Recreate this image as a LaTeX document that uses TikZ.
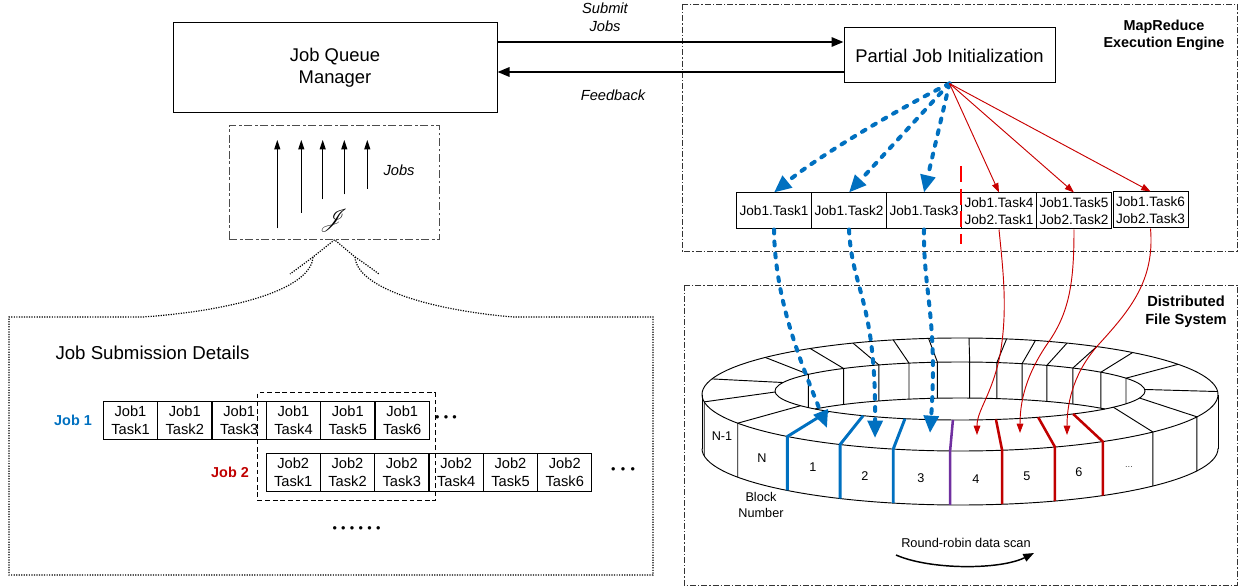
\documentclass[tikz,border=0pt]{standalone}
\usepackage{fontspec}
\setmainfont{Liberation Sans}
\usepackage{mathrsfs}
\usetikzlibrary{arrows.meta,calc}
\definecolor{mblue}{RGB}{0,112,192}
\definecolor{mred}{RGB}{192,0,0}
\definecolor{mpurple}{RGB}{112,48,160}
\definecolor{arrred}{RGB}{200,0,0}
\tikzset{
  lbl/.style={inner sep=0pt, align=center},
  mainbox/.style={draw, inner sep=0pt, align=center, font=\fontsize{13.8}{16.5}\selectfont},
  taskbox/.style={draw, inner sep=0pt, align=center, minimum width=56.25pt, minimum height=27pt, font=\fontsize{10.2}{12.75}\selectfont},
  jtask/.style={draw, inner sep=0pt, align=center, minimum width=40.75pt, minimum height=28.5pt, font=\fontsize{11}{13.3}\selectfont},
  frameDD/.style={draw=black!80, line width=0.6pt, dash pattern=on 4.5pt off 1.5pt on 1pt off 1.5pt},
  dotframe/.style={draw=black, line width=0.9pt, dash pattern=on 0.9pt off 1pt},
  jobsframe/.style={draw=black!70, line width=0.75pt, dash pattern=on 6pt off 2pt on 2pt off 2pt},
  selframe/.style={draw=black, line width=0.75pt, dash pattern=on 3.5pt off 2.2pt},
  bluearr/.style={draw=mblue, line width=3pt, dash pattern=on 3pt off 6pt, line cap=round, -{Triangle[length=13pt,width=11pt,fill=mblue]}},
  redarr/.style={draw=arrred, line width=0.7pt, -{Triangle[length=7pt,width=5pt,fill=arrred]}},
  blkarr/.style={draw=black, line width=1.6pt, -{Triangle[length=9pt,width=7pt]}},
  jarr/.style={draw=black, line width=0.75pt, -{Triangle[length=7pt,width=4.5pt]}},
  ringline/.style={draw=black, line width=0.7pt},
  ringblue/.style={draw=mblue, line width=2.2pt, line join=round},
  ringred/.style={draw=mred, line width=1.9pt, line join=round},
  ringpurple/.style={draw=mpurple, line width=1.9pt, line join=round},
  ringlbl/.style={inner sep=0pt, font=\fontsize{9.5}{11}\selectfont},
  dots/.style={inner sep=0pt, font=\fontsize{9.5}{11}\selectfont}
}
\begin{document}
\begin{tikzpicture}[x=0.75pt,y=-0.75pt,line width=0.75pt]
\useasboundingbox (0,0) rectangle (1239,588);

% ---------------- frames ----------------
\draw[frameDD] (682,4) rectangle (1237,251);
\draw[frameDD] (684,285) rectangle (1237,585);

% ---------------- top: job queue manager and partial job init ----------------
\node[mainbox, minimum width=243pt, minimum height=67.5pt] (JQM) at (335,68) {Job Queue\\Manager};
\node[mainbox, minimum width=158.25pt, minimum height=41.25pt] (PJI) at (949.5,55.5) {Partial Job Initialization};
\coordinate (subY) at (0,42);
\coordinate (fbY) at (0,72);
\draw[blkarr] (JQM.east |- subY) -- (PJI.west |- subY);
\draw[blkarr] (PJI.west |- fbY) -- (JQM.east |- fbY);
\node[lbl, font=\fontsize{11}{13.5}\selectfont\itshape] (submit) at (605,17) {Submit\\Jobs};
\node[lbl, font=\fontsize{11}{13.5}\selectfont\itshape] (feedback) at (613,95) {Feedback};
\node[lbl, font=\fontsize{10.8}{13}\selectfont\bfseries] (mre) at (1164,35) {MapReduce\\Execution Engine};

% ---------------- jobs box ----------------
\node[jobsframe, minimum width=158pt, minimum height=85.2pt, inner sep=0pt] (JB) at (334.6,182.5) {};
\foreach \i/\x/\yb in {1/277.3/228.3, 2/301.3/212.7, 3/322.7/199.3, 4/344.3/194.3, 5/367.3/189}{
  \coordinate (jb\i) at (\x,\yb);
  \coordinate (jt\i) at (\x,140);
  \draw[jarr] (jb\i) -- (jt\i);
}
\node[lbl, font=\fontsize{11}{13}\selectfont\itshape] (jobslbl) at (399,170) {Jobs};
\node[lbl, font=\fontsize{16}{18}\selectfont] (Jsym) at (334,221) {$\mathscr{J}$};

% ---------------- job submission details (callout) ----------------
\coordinate (cl) at (313,257);
\coordinate (cr) at (355,257);
\draw[dotframe] (JB.south) -- (cl) .. controls (311,288) and (240,310) .. (143,317)
   -- (9,317) -- (9,575) -- (653,575) -- (653,317) -- (513,317)
   .. controls (430,310) and (357,288) .. (cr) -- (JB.south);
\coordinate (cle) at (290,274);
\coordinate (cre) at (379,274);
\draw[dotframe] (cl) .. controls (305,263) .. (cle);
\draw[dotframe] (cr) .. controls (364,263) .. (cre);

\node[lbl, anchor=west, font=\fontsize{14}{16}\selectfont] (jsd) at (55,353) {Job Submission Details};

\foreach \k/\x in {1/130.5, 2/184.8, 3/239.2, 4/293.5, 5/347.8, 6/402.2}
  \node[jtask] (ja\k) at (\x,420) {Job1\\Task\k};
\foreach \k/\x in {1/293.2, 2/347.5, 3/401.8, 4/456.2, 5/510.5, 6/564.8}
  \node[jtask] (jb\k) at (\x,472) {Job2\\Task\k};
\node[selframe, minimum width=133pt, minimum height=81pt, inner sep=0pt] (sel) at (346.35,446.7) {};
\node[lbl, text=mblue, font=\fontsize{10.8}{13}\selectfont\bfseries] (job1) at (73,420) {Job 1};
\node[lbl, text=mred, font=\fontsize{10.8}{13}\selectfont\bfseries] (job2) at (230,472.5) {Job 2};
\node[dots] (d1) at (446,419) {\textbullet\hspace{3.2pt}\textbullet\hspace{3.2pt}\textbullet};
\node[dots] (d2) at (623,471) {\textbullet\hspace{4pt}\textbullet\hspace{4pt}\textbullet};
\node[dots] (d3) at (356.5,530) {\textbullet\hspace{3.2pt}\textbullet\hspace{3.2pt}\textbullet\hspace{3.2pt}\textbullet\hspace{3.2pt}\textbullet\hspace{3.2pt}\textbullet};

% ---------------- task boxes in engine ----------------
\node[taskbox] (t1) at (774,211) {Job1.Task1};
\node[taskbox] (t2) at (849,211) {Job1.Task2};
\node[taskbox] (t3) at (924,211) {Job1.Task3};
\node[taskbox] (t4) at (999,211) {Job1.Task4\\Job2.Task1};
\node[taskbox] (t5) at (1074,211) {Job1.Task5\\Job2.Task2};
\node[taskbox] (t6) at (1150.5,210) {Job1.Task6\\Job2.Task3};
\coordinate (rd1) at (961,166);
\coordinate (rd2) at (961,244);
\draw[draw=red, line width=2.2pt, dash pattern=on 12pt off 5pt] (rd1) -- (rd2);

% arrows from partial job initialization
\draw[bluearr] (PJI.south) .. controls (900,108) and (820,155) .. (t1.north);
\draw[bluearr] (PJI.south) -- (t2.north);
\draw[bluearr] (PJI.south) -- (t3.north);
\draw[redarr] (PJI.south) -- (t4.north);
\draw[redarr] (PJI.south) -- (t5.north);
\draw[redarr] (PJI.south) -- (t6.north);

% ---------------- ring ----------------
\node[lbl, font=\fontsize{11}{13.5}\selectfont\bfseries] (dfs) at (1186,312) {Distributed\\File System};

\draw[ringline] (960,394.5) ellipse [x radius=258, y radius=56.5];
\draw[ringline] (1218,448.5) arc[start angle=0, end angle=180, x radius=258, y radius=56.5];
\draw[ringline] (1218,394.5) -- (1218,448.5);
\draw[ringline] (702,394.5) -- (702,448.5);
\draw[ringline] (960,391) ellipse [x radius=185, y radius=29];
\draw[ringline] plot[domain=218.4:321.6, samples=40] ({960+185*cos(\x)},{427+29*sin(\x)});

\foreach \ai/\ao in {357/357, 197/196}
  \draw[ringline] ({960+185*cos(\ai)},{391+29*sin(\ai)}) -- ({960+258*cos(\ao)},{394.5+56.5*sin(\ao)});

\foreach \ai/\ao in {215/221, 231/234.5, 244/245.5, 254/255, 263/263, 273/272, 281.5/280.4, 289.6/287, 298/294.5, 307.6/302, 319.6/312, 333.8/327.7}{
  \pgfmathsetmacro\ye{min(427+29*sin(\ai),391-29*sin(\ai))}
  \draw[ringline] ({960+258*cos(\ao)},{394.5+56.5*sin(\ao)}) -- ({960+185*cos(\ai)},{391+29*sin(\ai)}) -- ({960+185*cos(\ai)},\ye);
}

\foreach \ai/\ao/\st in {14/23.3/ringline, 34/41.6/ringline, 149.5/149.5/ringline, 178/172.5/ringline, 52.3/56.4/ringred, 65/68.4/ringred, 78.8/80.6/ringred, 92.2/92.2/ringpurple, 107.3/105/ringblue, 121.6/117.7/ringblue, 135.5/132/ringblue}
  \draw[\st] ({960+185*cos(\ai)},{391+29*sin(\ai)}) -- ({960+258*cos(\ao)},{394.5+56.5*sin(\ao)}) -- ++(0,54);

\node[ringlbl] (bNm1) at (722,436) {N-1};
\node[ringlbl] (bN) at (762,458) {N};
\node[ringlbl] (b1) at (813,467) {1};
\node[ringlbl] (b2) at (865,476) {2};
\node[ringlbl] (b3) at (921,478) {3};
\node[ringlbl] (b4) at (976,479) {4};
\node[ringlbl] (b5) at (1027,476) {5};
\node[ringlbl] (b6) at (1079,472) {6};
\node[ringlbl, font=\fontsize{7}{9}\selectfont, text=black!70] (bdots) at (1129,467) {...};
\node[lbl, font=\fontsize{9.5}{11.5}\selectfont] (blockno) at (761,505) {Block\\Number};

% arrows into the ring
\coordinate (bt1) at (827,428);
\coordinate (bt2) at (875,438);
\coordinate (bt3) at (930,433);
\coordinate (rt1) at (977,435);
\coordinate (rt2) at (1020,433);
\coordinate (rt3) at (1067,435);
\draw[bluearr] (t1.south) .. controls (775,300) and (800,360) .. (bt1);
\draw[bluearr] (t2.south) .. controls (852,290) and (876,300) .. (bt2);
\draw[bluearr] (t3.south) .. controls (923,290) and (938,320) .. (bt3);
\draw[redarr] (t4.south) .. controls (1003,270) and (1008,310) .. (1000,355) .. controls (992,395) and (977,410) .. (rt1);
\draw[redarr] (t5.south) .. controls (1074,280) and (1070,310) .. (1050,340) .. controls (1030,368) and (1020,395) .. (rt2);
\draw[redarr] (t6.south) .. controls (1155,280) and (1130,310) .. (1100,343) .. controls (1075,370) and (1067,400) .. (rt3);

% round robin
\coordinate (rr1) at (896,555);
\coordinate (rr2) at (1034,553);
\draw[draw=black, line width=1.1pt, -{Triangle[length=8pt,width=6pt]}] (rr1) .. controls (930,570) and (1000,570) .. (rr2);
\node[lbl, font=\fontsize{9.6}{11}\selectfont] (rrlbl) at (966,543) {Round-robin data scan};
\end{tikzpicture}
\end{document}
